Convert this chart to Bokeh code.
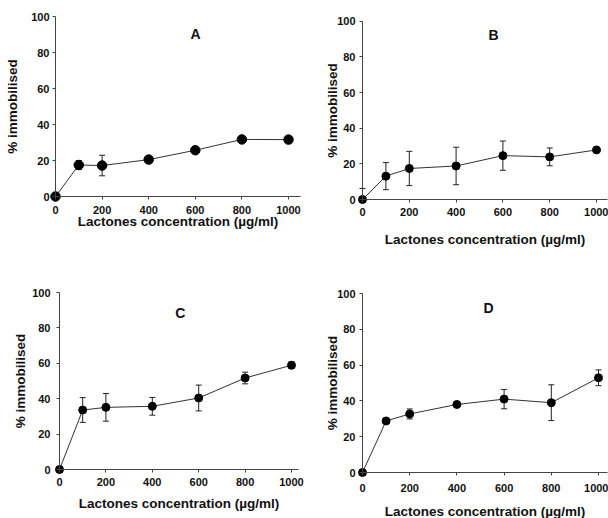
from bokeh.plotting import figure
from bokeh.models import (ColumnDataSource, Whisker, TeeHead, Label, FixedTicker,
                          Range1d, LinearAxis)
from bokeh.layouts import gridplot
from bokeh.embed import file_html
from bokeh.resources import INLINE

# ---- data ----
conc = [0, 100, 200, 400, 600, 800, 1000]
x_ticks = [0, 200, 400, 600, 800, 1000]
y_ticks = [0, 20, 40, 60, 80, 100]

a_mean = [0, 17.5, 17.2, 20.5, 25.7, 31.7, 31.6]
a_sd = [0, 2.5, 5.7, 1.0, 1.0, 1.0, 1.0]

b_mean = [0, 13.1, 17.4, 18.8, 24.6, 23.9, 27.8]
b_sd = [6.2, 7.6, 9.6, 10.5, 8.2, 5.0, 1.0]

c_mean = [0, 33.6, 35.1, 35.7, 40.4, 51.7, 58.9]
c_sd = [0, 7.0, 7.8, 5.0, 7.3, 3.3, 1.9]

d_mean = [0, 28.8, 32.7, 38.0, 41.0, 39.0, 52.9]
d_sd = [0, 1.0, 2.8, 1.0, 5.4, 10.0, 4.4]

x_title = "Lactones concentration (µg/ml)"
y_title = "% immobilised"
FONT = "Liberation Sans"


def panel(letter, mean, sd, W, H, zero_x, zero_y, px_per_x, top100, x_end,
          letter_xy, xl_off, xt_off, yl_off, yt_off, dot):
    # the frame covers the whole canvas; axes sit at data zero
    s_y = (zero_y - top100) / 100.0
    y_top = zero_y / s_y
    y_bot = -(H - zero_y) / s_y
    x0 = -zero_x / px_per_x
    x1 = (W - zero_x) / px_per_x
    p = figure(width=W, height=H, output_backend="svg", toolbar_location=None,
               x_range=Range1d(x0, x1), y_range=Range1d(y_bot, y_top),
               min_border=0, min_border_left=0, min_border_right=0,
               min_border_top=0, min_border_bottom=0,
               x_axis_location=None, y_axis_location=None)
    p.outline_line_color = None
    p.grid.visible = False
    p.background_fill_color = "white"
    p.border_fill_color = "white"

    xa = LinearAxis(fixed_location=0, bounds=(0, x_end),
                    ticker=FixedTicker(ticks=x_ticks), axis_label=x_title)
    ya = LinearAxis(fixed_location=0, bounds=(0, 100),
                    ticker=FixedTicker(ticks=y_ticks), axis_label=y_title)
    for ax in (xa, ya):
        ax.axis_line_color = "#444444"
        ax.axis_line_width = 1
        ax.major_tick_line_color = "#444444"
        ax.major_tick_in = 0
        ax.major_tick_out = 3
        ax.minor_tick_line_color = None
        ax.major_label_text_font = FONT
        ax.major_label_text_font_style = "bold"
        ax.major_label_text_font_size = "11px"
        ax.major_label_text_color = "#111111"
        ax.axis_label_text_font = FONT
        ax.axis_label_text_font_style = "bold"
        ax.axis_label_text_font_size = "13.5px"
        ax.axis_label_text_color = "#111111"
    xa.major_label_standoff = xl_off
    xa.axis_label_standoff = xt_off
    ya.major_label_standoff = yl_off
    ya.axis_label_standoff = yt_off
    p.add_layout(xa, "below")
    p.add_layout(ya, "left")

    lower = [max(0.0, m - e) for m, e in zip(mean, sd)]
    upper = [m + e for m, e in zip(mean, sd)]
    src = ColumnDataSource(dict(x=conc, y=mean, lo=lower, hi=upper))
    w = Whisker(base="x", lower="lo", upper="hi", source=src, dimension="height",
                line_color="#222222", line_width=1,
                upper_head=TeeHead(size=6, line_color="#222222", line_width=1),
                lower_head=TeeHead(size=6, line_color="#222222", line_width=1))
    p.add_layout(w)
    p.line("x", "y", source=src, line_color="#333333", line_width=1)
    p.scatter("x", "y", source=src, size=dot, marker="circle",
              fill_color="black", line_color="black")
    p.add_layout(Label(x=letter_xy[0], y=letter_xy[1], text=letter,
                       text_font=FONT, text_font_style="bold",
                       text_font_size="14px", text_align="center",
                       text_baseline="middle", text_color="#111111"))
    return p


pa = panel("A", a_mean, a_sd, 304, 262, zero_x=55, zero_y=196, px_per_x=0.233,
           top100=16, x_end=1050, letter_xy=(601, 90.5),
           xl_off=6, xt_off=-3, yl_off=3, yt_off=8, dot=9.5)
pb = panel("B", b_mean, b_sd, 304, 262, zero_x=58, zero_y=199, px_per_x=0.234,
           top100=20.7, x_end=1047, letter_xy=(560, 92),
           xl_off=5, xt_off=13, yl_off=4, yt_off=-6, dot=8)
pc = panel("C", c_mean, c_sd, 304, 256, zero_x=59, zero_y=207, px_per_x=0.232,
           top100=30, x_end=1030, letter_xy=(521, 88.7),
           xl_off=5, xt_off=7, yl_off=6, yt_off=1, dot=8)
pd = panel("D", d_mean, d_sd, 304, 256, zero_x=58, zero_y=210, px_per_x=0.236,
           top100=31, x_end=1040, letter_xy=(534, 92),
           xl_off=8, xt_off=9, yl_off=4, yt_off=-6, dot=8)

grid = gridplot([[pa, pb], [pc, pd]], toolbar_location=None)

open("out.html", "w").write(file_html(grid, INLINE))
